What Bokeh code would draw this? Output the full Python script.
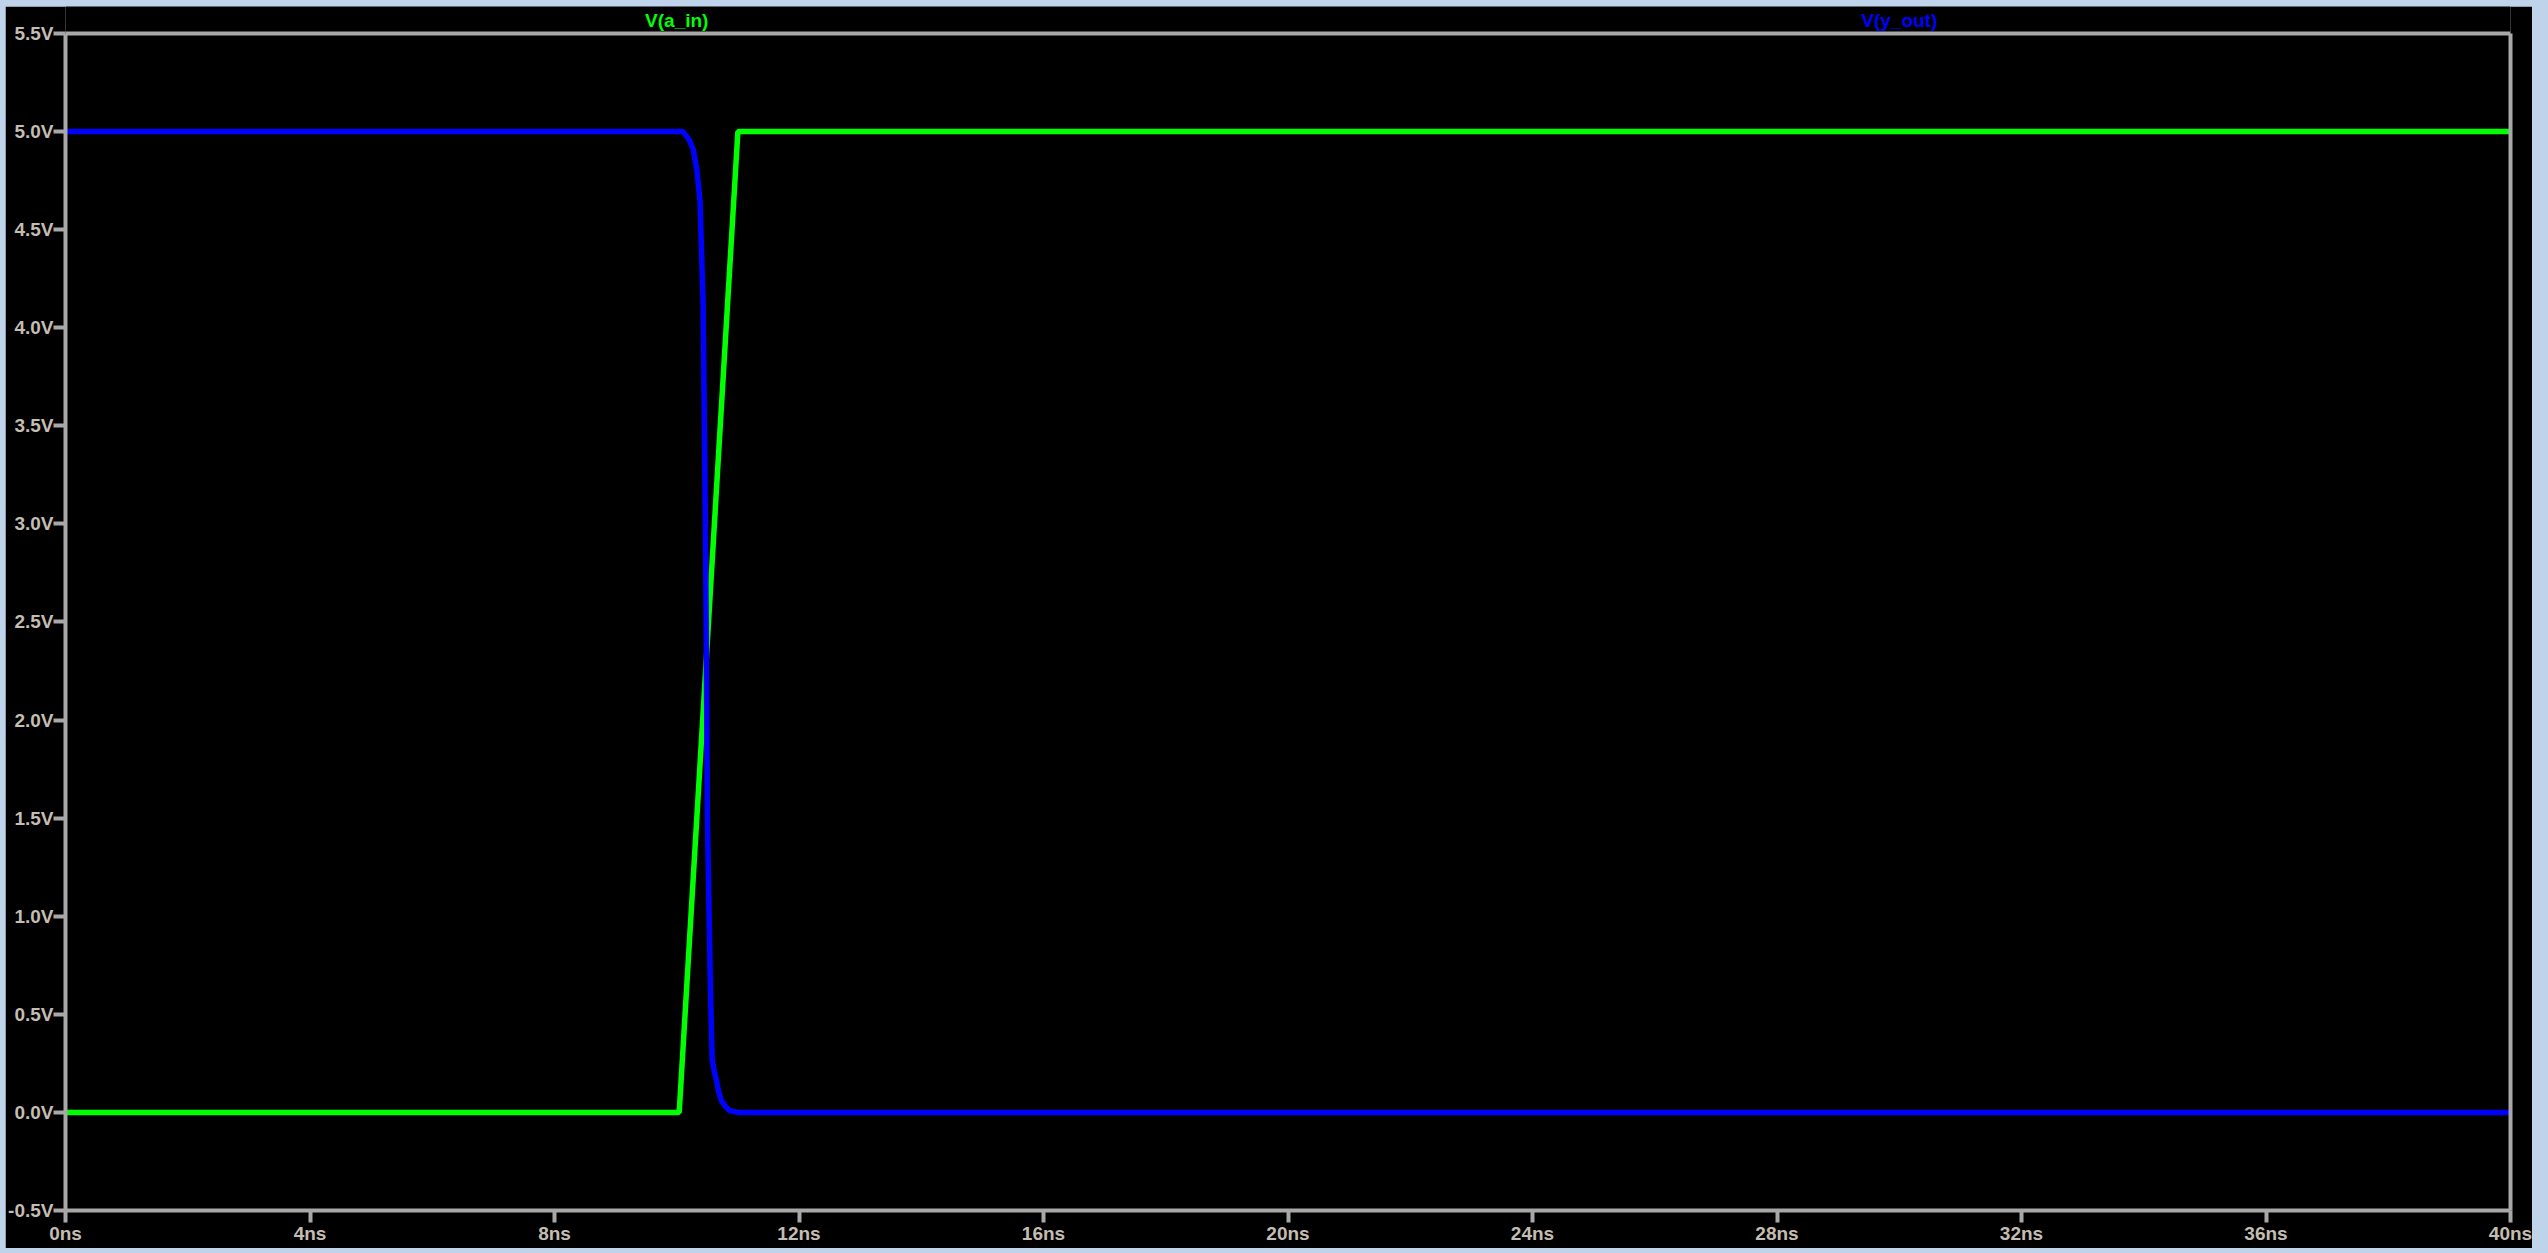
from bokeh.plotting import figure
from bokeh.models import Range1d, FixedTicker, PrintfTickFormatter, LinearAxis, Span
from bokeh.core.properties import value
from bokeh.embed import file_html
from bokeh.resources import INLINE

# Data (time in ns, voltage in V)
t_in = [0, 10.04, 11.0, 40]
v_in = [0, 0, 5.0, 5.0]

t_out = [0, 10.10, 10.20, 10.27, 10.33, 10.38, 10.43, 10.455, 10.48, 10.50,
         10.53, 10.555, 10.58, 10.62, 10.65, 10.69, 10.73, 10.80, 10.86, 11.0, 40]
v_out = [5.0, 5.0, 4.96, 4.91, 4.80, 4.65, 4.14, 3.43, 2.58, 1.53,
         0.99, 0.57, 0.265, 0.20, 0.163, 0.10, 0.06, 0.03, 0.01, 0.0, 0.0]

y_ticks = [-0.5, 0.0, 0.5, 1.0, 1.5, 2.0, 2.5, 3.0, 3.5, 4.0, 4.5, 5.0, 5.5]
x_ticks = [0, 4, 8, 12, 16, 20, 24, 28, 32, 36, 40]

series_labels = ["V(a_in)", "V(y_out)"]
series_label_x = [10, 30]
series_label_y = [5.566, 5.566]
series_colors = ["#00FF00", "#0000FF"]

Y_MIN, Y_MAX = -0.5, 5.5
AXIS = "#A8A8A8"
TXT = "#C4BDB2"

p = figure(width=2527, height=1242, output_backend="svg", toolbar_location=None,
           x_range=Range1d(0, 40), y_range=Range1d(Y_MIN, 5.6376),
           min_border_left=59, min_border_top=0, min_border_right=22, min_border_bottom=38)
p.styles = {"margin-left": "5px", "margin-top": "6px"}
p.background_fill_color = "black"
p.border_fill_color = "black"
p.outline_line_color = None
p.xgrid.visible = False
p.ygrid.visible = False

right_axis = LinearAxis(bounds=(Y_MIN, Y_MAX), major_tick_line_color=None,
                        minor_tick_line_color=None, major_label_text_alpha=0,
                        major_label_text_font_size="1px")
p.add_layout(right_axis, "right")

p.yaxis[0].bounds = (Y_MIN, Y_MAX)
for ax in (p.xaxis[0], p.yaxis[0], right_axis):
    ax.axis_line_color = AXIS
    ax.axis_line_width = 4
for ax in (p.xaxis[0], p.yaxis[0]):
    ax.major_tick_line_color = AXIS
    ax.major_tick_line_width = 4
    ax.major_tick_out = 12
    ax.major_tick_in = 0
    ax.minor_tick_line_color = None
    ax.major_label_text_color = TXT
    ax.major_label_text_font = "Liberation Sans"
    ax.major_label_text_font_style = "bold"
    ax.major_label_text_font_size = "19px"
    ax.major_label_standoff = 0

p.yaxis[0].ticker = FixedTicker(ticks=y_ticks)
p.yaxis[0].formatter = PrintfTickFormatter(format="%.1fV")
p.xaxis[0].ticker = FixedTicker(ticks=x_ticks)
p.xaxis[0].formatter = PrintfTickFormatter(format="%dns")

# top edge of the plot box at 5.5 V
p.add_layout(Span(location=Y_MAX, dimension="width", line_color=AXIS, line_width=4))

p.line(t_in, v_in, line_color=series_colors[0], line_width=5.5)
p.line(t_out, v_out, line_color=series_colors[1], line_width=5.5)

p.text(x=series_label_x, y=series_label_y, text=series_labels, text_color=series_colors,
       text_align="center", text_baseline="middle",
       text_font=value("Liberation Sans"), text_font_style="bold", text_font_size="19px")

html = file_html(p, INLINE)
html = html.replace("</head>", "<style>html,body{margin:0;padding:0;background:#BFD4EA;}</style></head>", 1)
open("out.html", "w").write(html)
